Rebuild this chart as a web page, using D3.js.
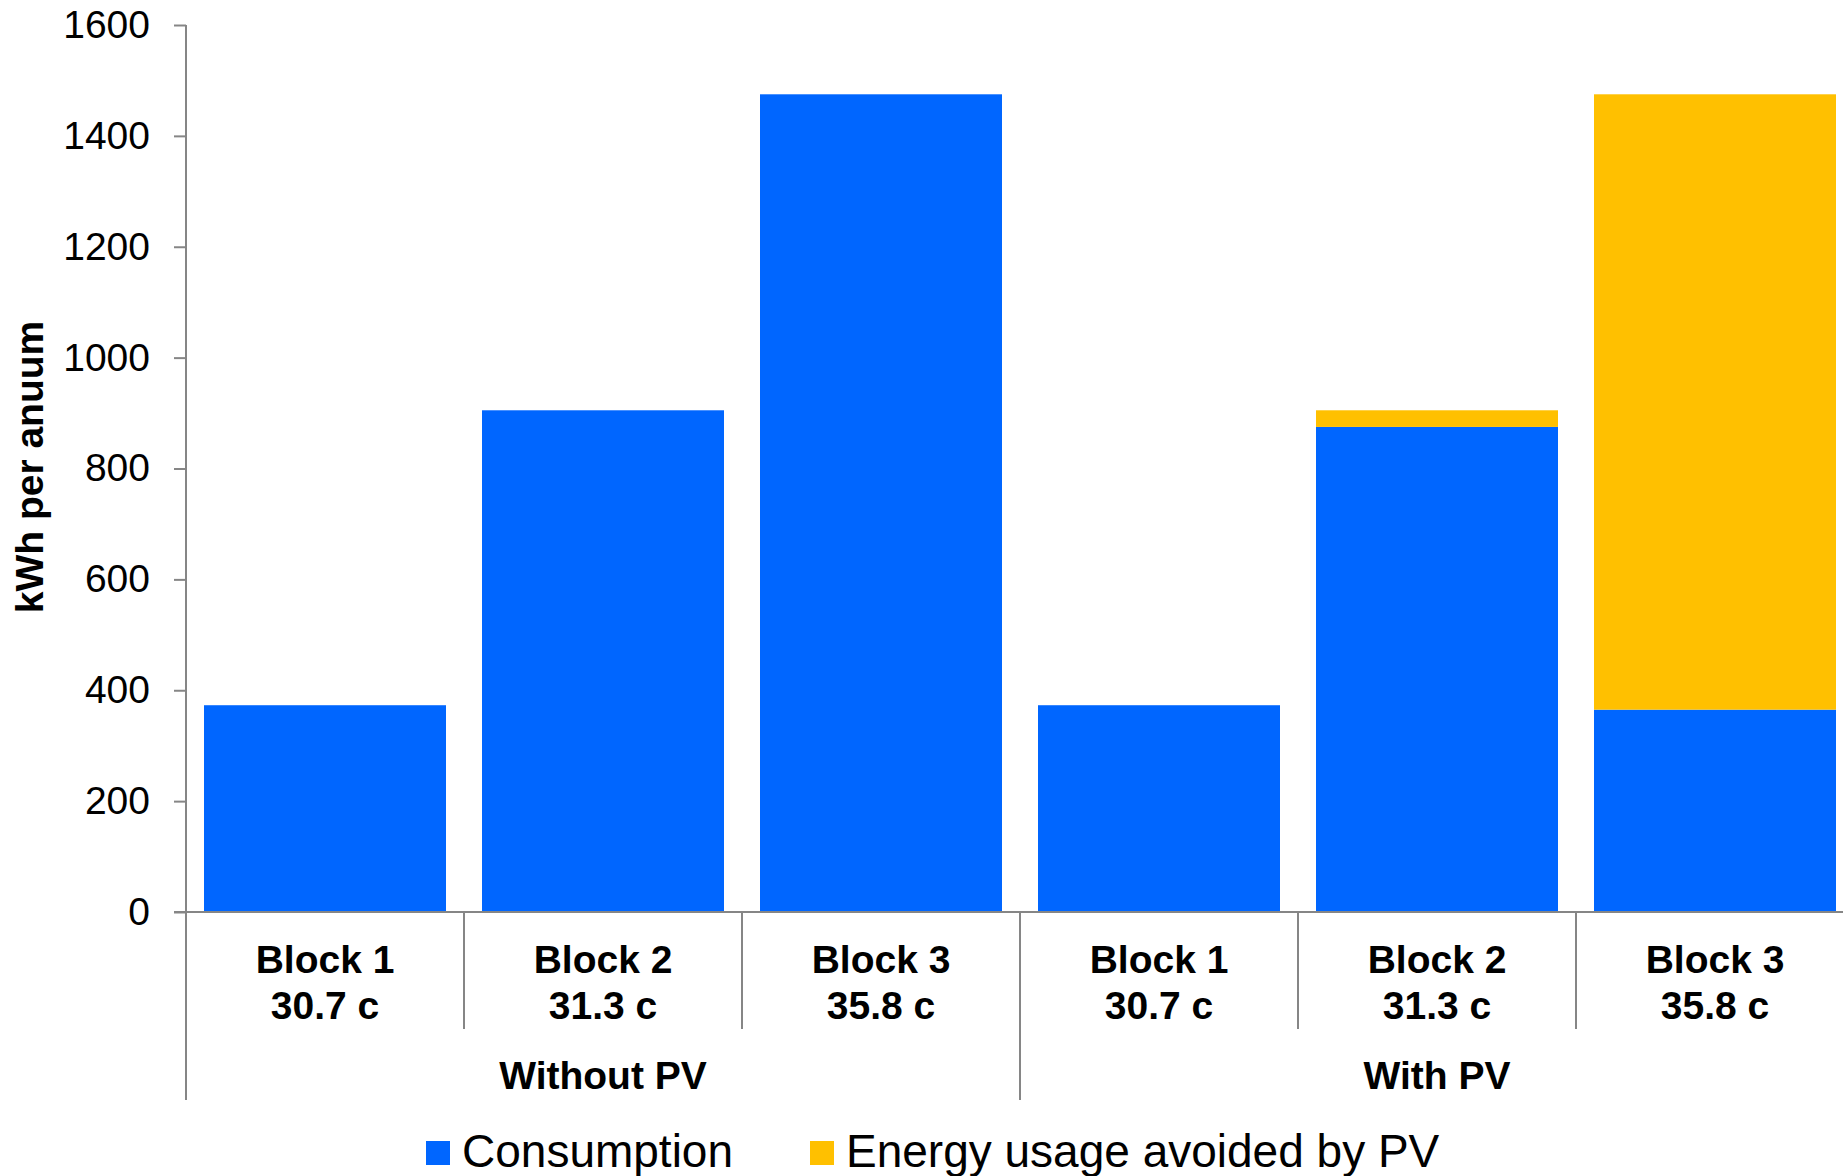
<!DOCTYPE html>
<html>
<head>
<meta charset="utf-8">
<script src="https://cdn.jsdelivr.net/npm/d3@7"></script>
<style>
  html, body { margin: 0; padding: 0; background: #fff; }
  svg { display: block; font-family: "Liberation Sans", Arial, sans-serif; }
</style>
</head>
<body>
<svg id="chart" width="1843" height="1176"></svg>
<script>
// Annual consumption per tariff block, without and with PV
const scenarios = ["Without PV", "With PV"];
const blocks = ["Block 1", "Block 2", "Block 3"];
const tariffs = ["30.7 c", "31.3 c", "35.8 c"];
const consumption = [373, 905, 1475, 373, 875, 365];
const avoidedByPV = [0, 0, 0, 0, 30, 1110];
const yTicks = [0, 200, 400, 600, 800, 1000, 1200, 1400, 1600];
const seriesNames = ["Consumption", "Energy usage avoided by PV"];
const seriesColors = ["#0066FF", "#FFC000"];

const plotLeft = 186, plotBottom = 912, plotTop = 25;
const nCats = scenarios.length * blocks.length;
const step = 278;
const plotRight = plotLeft + step * nCats; // plot runs past the right edge
const axisColor = "#868686";

const rows = d3.range(nCats).map(i => ({
  idx: i,
  scenario: scenarios[Math.floor(i / blocks.length)],
  block: blocks[i % blocks.length],
  tariff: tariffs[i % blocks.length],
  consumption: consumption[i],
  avoided: avoidedByPV[i]
}));

const svg = d3.select("#chart");

const pad = 36 / 278;
const x = d3.scaleBand()
  .domain(rows.map(d => d.idx))
  .range([plotLeft, plotRight])
  .paddingInner(pad)
  .paddingOuter(pad / 2);

const y = d3.scaleLinear().domain([0, 1600]).range([plotBottom, plotTop]);

const stacked = d3.stack().keys(["consumption", "avoided"])(rows);

// bars
svg.append("g")
  .selectAll("g")
  .data(stacked)
  .join("g")
  .attr("fill", (d, i) => seriesColors[i])
  .selectAll("rect")
  .data(d => d)
  .join("rect")
  .attr("x", d => x(d.data.idx))
  .attr("width", x.bandwidth())
  .attr("y", d => y(d[1]))
  .attr("height", d => y(d[0]) - y(d[1]));

// y axis
const yAxis = svg.append("g")
  .attr("transform", `translate(${plotLeft},0)`)
  .call(d3.axisLeft(y).tickValues(yTicks).tickSize(12).tickPadding(24).tickFormat(d3.format("d")));
yAxis.select(".domain").attr("stroke", axisColor).attr("stroke-width", 2).attr("d", `M0,${plotTop}V${plotBottom}`);
yAxis.selectAll(".tick line").attr("stroke", axisColor).attr("stroke-width", 2);
yAxis.selectAll(".tick text")
  .attr("font-size", 39)
  .attr("font-family", "Liberation Sans, Arial, sans-serif")
  .attr("fill", "#000");

// y axis title
svg.append("text")
  .attr("transform", `translate(43,467) rotate(-90)`)
  .attr("text-anchor", "middle")
  .attr("font-size", 39)
  .attr("font-weight", "bold")
  .text("kWh per anuum");

// x axis line
svg.append("line")
  .attr("x1", plotLeft - 12).attr("x2", plotRight)
  .attr("y1", plotBottom).attr("y2", plotBottom)
  .attr("stroke", axisColor).attr("stroke-width", 2);

// category boundaries
const half = (x.step() - x.bandwidth()) / 2;
const boundary = i => x(i) - half;
const xAxis = svg.append("g");
rows.forEach(d => {
  const isGroupEdge = d.idx % blocks.length === 0;
  xAxis.append("line")
    .attr("x1", boundary(d.idx)).attr("x2", boundary(d.idx))
    .attr("y1", plotBottom).attr("y2", isGroupEdge ? 1100 : 1029)
    .attr("stroke", axisColor).attr("stroke-width", 2);
});
xAxis.append("line")
  .attr("x1", plotRight).attr("x2", plotRight)
  .attr("y1", plotBottom).attr("y2", 1100)
  .attr("stroke", axisColor).attr("stroke-width", 2);

// category labels
const catLabels = xAxis.selectAll("text.cat")
  .data(rows)
  .join("text")
  .attr("class", "cat")
  .attr("text-anchor", "middle")
  .attr("font-size", 39)
  .attr("font-weight", "bold");
catLabels.append("tspan").attr("y", 973).attr("x", d => x(d.idx) + x.bandwidth() / 2).text(d => d.block);
catLabels.append("tspan").attr("y", 1019).attr("x", d => x(d.idx) + x.bandwidth() / 2).text(d => d.tariff);

// scenario labels
xAxis.selectAll("text.grp")
  .data(scenarios)
  .join("text")
  .attr("class", "grp")
  .attr("text-anchor", "middle")
  .attr("font-size", 39)
  .attr("font-weight", "bold")
  .attr("y", 1089)
  .attr("x", (s, i) => (boundary(i * blocks.length) + (i + 1 < scenarios.length ? boundary((i + 1) * blocks.length) : plotRight)) / 2)
  .text(s => s);

// legend
const legendX = [426, 810];
const legend = svg.append("g");
seriesNames.forEach((name, i) => {
  legend.append("rect")
    .attr("x", legendX[i]).attr("y", 1141)
    .attr("width", 24).attr("height", 24)
    .attr("fill", seriesColors[i]);
  legend.append("text")
    .attr("x", legendX[i] + 36).attr("y", 1167)
    .attr("font-size", 46)
    .text(name);
});
</script>
</body>
</html>
